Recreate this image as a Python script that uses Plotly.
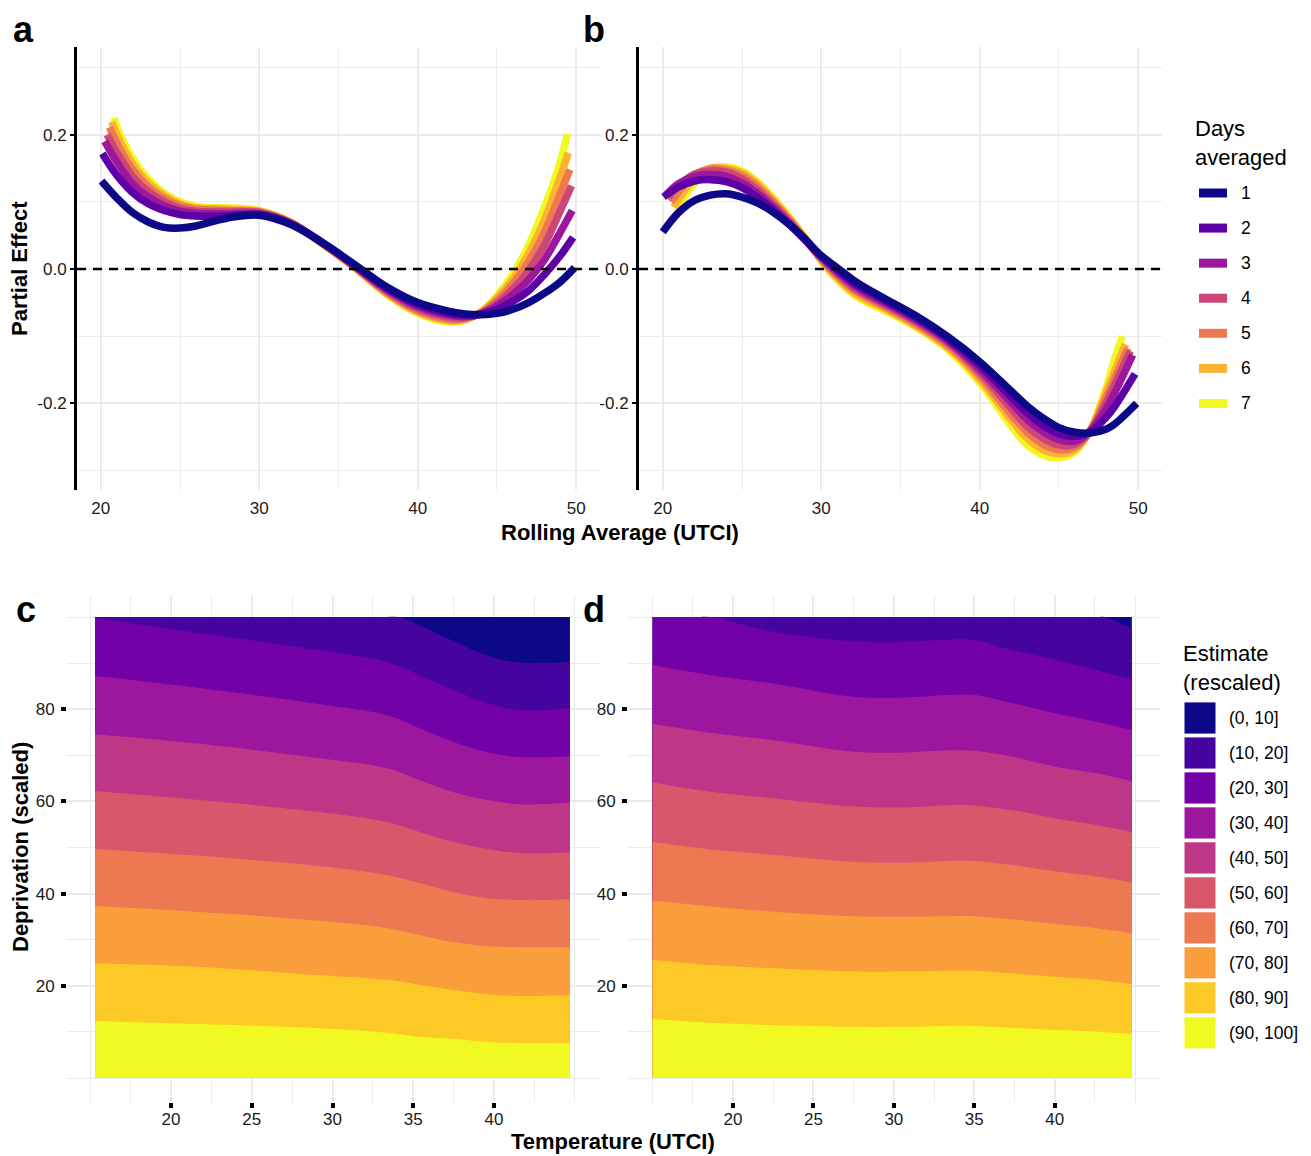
import plotly.graph_objects as go

# page body has an 8px default margin: lay out in window pixels, shift by that
OFF = 8
W, H = 1311 - OFF, 1156 - OFF
FONT = "Liberation Sans, Arial, Helvetica, sans-serif"

# ---------------- data: panels a / b (partial effect curves) ----------------
days = [1, 2, 3, 4, 5, 6, 7]
day_colors = ["#0D0887", "#5D01A6", "#9C179E", "#CC4678", "#ED7953", "#FDB32F", "#F0F921"]

a_mid_x = [21, 22, 23, 24, 25, 26, 28, 30, 32, 34, 36, 38, 40, 42, 43, 44, 45, 46, 47, 48, 49]
a_start_x = [20.05, 20.1, 20.25, 20.4, 20.55, 20.7, 20.85]
a_end_x = [49.9, 49.8, 49.75, 49.7, 49.6, 49.5, 49.45]
a_day1 = [0.131, 0.106, 0.084, 0.070, 0.062, 0.061, 0.064, 0.076, 0.080, 0.066, 0.039, 0.007, -0.026, -0.050, -0.063, -0.067, -0.068, -0.066, -0.060, -0.050, -0.036, -0.019, 0.002]
a_day2 = [0.172, 0.140, 0.114, 0.097, 0.087, 0.081, 0.079, 0.079, 0.081, 0.067, 0.039, 0.006, -0.028, -0.053, -0.066, -0.069, -0.067, -0.060, -0.048, -0.032, -0.008, 0.020, 0.047]
a_day3 = [0.190, 0.160, 0.127, 0.107, 0.094, 0.086, 0.083, 0.082, 0.082, 0.068, 0.039, 0.005, -0.030, -0.056, -0.069, -0.071, -0.067, -0.055, -0.038, -0.016, 0.014, 0.055, 0.087]
a_day4 = [0.200, 0.174, 0.138, 0.115, 0.100, 0.090, 0.086, 0.085, 0.084, 0.068, 0.038, 0.004, -0.032, -0.059, -0.072, -0.072, -0.066, -0.051, -0.030, -0.002, 0.036, 0.087, 0.124]
a_day5 = [0.211, 0.188, 0.148, 0.122, 0.105, 0.094, 0.089, 0.087, 0.085, 0.069, 0.038, 0.003, -0.034, -0.062, -0.075, -0.074, -0.065, -0.047, -0.022, 0.011, 0.055, 0.113, 0.148]
a_day6 = [0.219, 0.201, 0.157, 0.128, 0.109, 0.097, 0.091, 0.089, 0.086, 0.069, 0.037, 0.003, -0.036, -0.064, -0.077, -0.075, -0.064, -0.043, -0.015, 0.023, 0.073, 0.138, 0.173]
a_day7 = [0.225, 0.213, 0.165, 0.134, 0.113, 0.100, 0.093, 0.091, 0.087, 0.070, 0.037, 0.002, -0.037, -0.066, -0.079, -0.076, -0.063, -0.040, -0.008, 0.035, 0.092, 0.160, 0.201]

b_mid_x = [21, 22, 23, 24, 25, 26, 27, 28, 29, 30, 31, 32, 33, 34, 36, 38, 40, 42, 43, 44, 45, 46, 47, 48, 48.5]
b_start_x = [20.0, 20.05, 20.2, 20.35, 20.5, 20.7, 20.9]
b_end_x = [49.9, 49.8, 49.65, 49.5, 49.35, 49.2, 49.0]
b_day1 = [0.055, 0.084, 0.102, 0.110, 0.112, 0.107, 0.098, 0.084, 0.066, 0.044, 0.020, 0.002, -0.016, -0.031, -0.044, -0.070, -0.101, -0.138, -0.182, -0.204, -0.222, -0.236, -0.243, -0.244, -0.238, -0.231, -0.200]
b_day2 = [0.107, 0.122, 0.131, 0.133, 0.130, 0.121, 0.106, 0.087, 0.066, 0.043, 0.019, -0.001, -0.020, -0.034, -0.047, -0.073, -0.104, -0.143, -0.191, -0.214, -0.233, -0.245, -0.249, -0.242, -0.220, -0.205, -0.156]
b_day3 = [0.110, 0.127, 0.138, 0.141, 0.138, 0.128, 0.112, 0.091, 0.068, 0.043, 0.018, -0.004, -0.023, -0.038, -0.050, -0.076, -0.107, -0.149, -0.199, -0.224, -0.242, -0.254, -0.256, -0.241, -0.207, -0.185, -0.128]
b_day4 = [0.107, 0.124, 0.141, 0.146, 0.144, 0.134, 0.117, 0.095, 0.070, 0.043, 0.016, -0.007, -0.027, -0.041, -0.053, -0.079, -0.110, -0.154, -0.208, -0.234, -0.252, -0.262, -0.261, -0.240, -0.198, -0.173, -0.122]
b_day5 = [0.100, 0.115, 0.140, 0.149, 0.147, 0.139, 0.122, 0.099, 0.073, 0.044, 0.015, -0.010, -0.030, -0.044, -0.056, -0.082, -0.114, -0.159, -0.217, -0.243, -0.261, -0.269, -0.265, -0.240, -0.190, -0.164, -0.118]
b_day6 = [0.092, 0.103, 0.135, 0.150, 0.150, 0.143, 0.126, 0.102, 0.075, 0.045, 0.013, -0.013, -0.034, -0.048, -0.059, -0.085, -0.117, -0.164, -0.225, -0.252, -0.269, -0.275, -0.269, -0.239, -0.182, -0.153, -0.112]
b_day7 = [0.088, 0.092, 0.128, 0.148, 0.152, 0.146, 0.129, 0.105, 0.077, 0.046, 0.012, -0.016, -0.037, -0.051, -0.062, -0.087, -0.120, -0.169, -0.234, -0.262, -0.277, -0.281, -0.272, -0.238, -0.175, -0.135, -0.100]

a_ticks = [20, 30, 40, 50]
y_ticks = [-0.2, 0.0, 0.2]
y_ticktext = ["-0.2", "0.0", "0.2"]

# ---------------- data: panels c / d (banded estimate surface) ----------------
# deprivation value of each band boundary (estimate = 10, 20, ... 90) at temperature columns
est_labels = ["(0, 10]", "(10, 20]", "(20, 30]", "(30, 40]", "(40, 50]",
              "(50, 60]", "(60, 70]", "(70, 80]", "(80, 90]", "(90, 100]"]
est_colors = ["#0D0887", "#47039F", "#7301A8", "#9C179E", "#BD3786",
              "#D8576B", "#ED7953", "#FA9E3B", "#FDC926", "#F0F921"]

c_x = [15.3, 21.8, 29.2, 33.4, 35.4, 37.5, 39.6, 41.6, 44.7]
c_b10_x = [15.3, 29.2, 33.0, 34.0, 35.4, 37.5, 39.6, 41.6, 44.7]
c_b10_y = [100, 100, 100, 100, 98.2, 94.8, 91.6, 90.1, 90.3]
c_b20 = [99.8, 96.5, 92.8, 90.2, 87.4, 84.2, 81.3, 79.8, 80.3]
c_b30 = [87.2, 84.6, 81.1, 78.7, 75.9, 72.9, 70.7, 69.6, 69.8]
c_b40 = [74.6, 72.5, 69.4, 67.2, 64.6, 62.0, 60.3, 59.4, 59.7]
c_b50 = [62.3, 60.3, 57.7, 55.5, 53.4, 51.2, 49.7, 48.8, 49.0]
c_b60 = [49.7, 48.2, 46.0, 44.0, 42.3, 40.3, 39.0, 38.6, 38.8]
c_b70 = [37.3, 36.0, 34.1, 32.5, 31.0, 29.5, 28.6, 28.4, 28.4]
c_b80 = [24.9, 24.1, 22.3, 21.3, 20.2, 19.1, 18.2, 17.8, 18.0]
c_b90 = [12.4, 11.7, 10.8, 9.8, 8.9, 8.5, 7.8, 7.6, 7.6]

d_x = [15.0, 18.6, 22.5, 27.5, 30.4, 33.3, 35.0, 37.4, 40.1, 42.6, 44.8]
d_b10_x = [15.0, 42.6, 43.1, 44.8]
d_b10_y = [100, 100, 100, 97.5]
d_b20_x = [15.0, 17.6, 18.6, 22.5, 27.5, 30.4, 33.3, 35.0, 37.4, 40.1, 42.6, 44.8]
d_b20_y = [100, 100, 100, 96.8, 94.7, 94.6, 95.1, 95.0, 92.8, 90.7, 88.5, 86.5]
d_b30 = [89.6, 87.4, 85.6, 82.7, 82.5, 83.1, 83.1, 81.3, 79.1, 77.3, 75.5]
d_b40 = [76.8, 74.9, 73.3, 70.8, 70.6, 71.1, 71.0, 69.7, 67.5, 66.1, 64.4]
d_b50 = [64.1, 62.1, 60.7, 58.9, 58.7, 59.2, 59.1, 58.1, 56.3, 54.9, 53.4]
d_b60 = [51.2, 49.6, 48.4, 46.9, 46.7, 47.1, 47.1, 46.2, 44.8, 43.7, 42.4]
d_b70 = [38.5, 37.2, 36.1, 35.1, 35.0, 35.1, 35.1, 34.4, 33.4, 32.5, 31.4]
d_b80 = [25.6, 24.5, 23.8, 23.1, 23.1, 23.3, 23.3, 22.7, 22.0, 21.3, 20.4]
d_b90 = [12.8, 12.0, 11.5, 11.1, 11.1, 11.3, 11.3, 10.9, 10.4, 10.1, 9.5]

c_ticks_x = [20, 25, 30, 35, 40]
c_ticks_y = [20, 40, 60, 80]


# ---------------- helpers (window pixels -> paper fractions) ----------------
def PX(p):
    return (p - OFF) / W


def PY(p):
    return 1 - (p - OFF) / H


fig = go.Figure()

# lines: panels a and b (day 7 drawn first, day 1 on top)
a_days = [a_day1, a_day2, a_day3, a_day4, a_day5, a_day6, a_day7]
b_days = [b_day1, b_day2, b_day3, b_day4, b_day5, b_day6, b_day7]
for i in reversed(range(len(days))):
    fig.add_trace(go.Scatter(
        x=[a_start_x[i]] + a_mid_x + [a_end_x[i]], y=a_days[i], mode="lines",
        line=dict(color=day_colors[i], width=7.5, shape="spline", smoothing=1.0),
        xaxis="x", yaxis="y", showlegend=False, hoverinfo="skip"))
for i in reversed(range(len(days))):
    fig.add_trace(go.Scatter(
        x=[b_start_x[i]] + b_mid_x + [b_end_x[i]], y=b_days[i], mode="lines",
        line=dict(color=day_colors[i], width=7.5, shape="spline", smoothing=1.0),
        xaxis="x2", yaxis="y2", showlegend=False, hoverinfo="skip"))


def add_bands(xcols, b10x, b10y, b20x, b20y, others, xa, ya):
    bounds = [([xcols[0], xcols[-1]], [100, 100]), (b10x, b10y), (b20x, b20y)]
    for arr in others:
        bounds.append((xcols, arr))
    for k, (bx, by) in enumerate(bounds):
        fig.add_trace(go.Scatter(
            x=bx, y=by, mode="lines", fill="tozeroy", fillcolor=est_colors[k],
            line=dict(width=0, shape="spline", smoothing=1.0, color=est_colors[k]),
            xaxis=xa, yaxis=ya, showlegend=False, hoverinfo="skip"))


add_bands(c_x, c_b10_x, c_b10_y, c_x, c_b20,
          [c_b30, c_b40, c_b50, c_b60, c_b70, c_b80, c_b90], "x3", "y3")
add_bands(d_x, d_b10_x, d_b10_y, d_b20_x, d_b20_y,
          [d_b30, d_b40, d_b50, d_b60, d_b70, d_b80, d_b90], "x4", "y4")

GRID = "#EBEBEB"
tickfont = dict(family=FONT, size=17, color="#1a1a1a")


def line_xaxis(dom, anchor):
    return dict(domain=dom, anchor=anchor, range=[18.5, 51.5], tickmode="array",
                tickvals=a_ticks, ticks="", showgrid=True, gridcolor=GRID, gridwidth=1.6,
                zeroline=False, showline=False, tickfont=tickfont, ticklabelstandoff=6,
                minor=dict(tickmode="linear", tick0=0, dtick=5, showgrid=True,
                           gridcolor=GRID, gridwidth=1.2, ticks=""),
                fixedrange=True)


def line_yaxis(dom, anchor):
    return dict(domain=dom, anchor=anchor, range=[-0.3289, 0.3304], tickmode="array",
                tickvals=y_ticks, ticktext=y_ticktext, ticks="outside", ticklen=4,
                tickwidth=2, tickcolor="black", showline=True, linewidth=3,
                linecolor="black", showgrid=True, gridcolor=GRID, gridwidth=1.6,
                zeroline=False, tickfont=tickfont,
                minor=dict(tickmode="linear", tick0=0, dtick=0.1, showgrid=True,
                           gridcolor=GRID, gridwidth=1.2, ticks=""),
                fixedrange=True)


def surf_xaxis(dom, anchor, rng):
    return dict(domain=dom, anchor=anchor, range=rng, tickmode="array",
                tickvals=c_ticks_x, ticks="outside", ticklen=5, tickwidth=4,
                tickcolor="black", showgrid=True, gridcolor=GRID, gridwidth=1.6,
                zeroline=False, showline=False, tickfont=tickfont, ticklabelstandoff=-3,
                minor=dict(tickmode="linear", tick0=0, dtick=2.5, showgrid=True,
                           gridcolor=GRID, gridwidth=1.2, ticks=""),
                fixedrange=True)


def surf_yaxis(dom, anchor):
    return dict(domain=dom, anchor=anchor, range=[-5.2, 104.8], tickmode="array",
                tickvals=c_ticks_y, ticks="outside", ticklen=5, tickwidth=4,
                tickcolor="black", showgrid=True, gridcolor=GRID, gridwidth=1.6,
                zeroline=False, showline=False, tickfont=tickfont, ticklabelstandoff=3,
                minor=dict(tickmode="linear", tick0=0, dtick=10, showgrid=True,
                           gridcolor=GRID, gridwidth=1.2, ticks=""),
                fixedrange=True)


top_dom = [PY(490), PY(47)]
bot_dom = [PY(1102), PY(595)]

shapes = []
for xr, yr in (("x domain", "y"), ("x2 domain", "y2")):
    shapes.append(dict(type="line", xref=xr, yref=yr, x0=0, x1=1, y0=0, y1=0,
                       line=dict(color="black", width=2.5, dash="9px,7px"), layer="above"))

annotations = []


def txt(text, x, y, size, bold=False, xanchor="left", yanchor="middle", angle=0,
        color="black", pad=1):
    if xanchor == "left":
        x -= 2  # annotation box padding
    annotations.append(dict(text=text, x=PX(x), y=PY(y), xref="paper", yref="paper",
                            xanchor=xanchor, yanchor=yanchor, showarrow=False, textangle=angle,
                            align="left" if xanchor == "left" else "center", borderpad=pad,
                            font=dict(family=FONT, size=size, color=color,
                                      weight="bold" if bold else "normal")))


# panel letters
txt("a", 14, 29, 36, bold=True, pad=0)
txt("b", 584, 29, 36, bold=True, pad=0)
txt("c", 17, 609, 36, bold=True, pad=0)
txt("d", 584, 609, 36, bold=True, pad=0)

# axis titles
txt("Partial Effect", 20, 269, 22, bold=True, xanchor="center", angle=-90)
txt("Rolling Average (UTCI)", 620, 532, 22, bold=True, xanchor="center")
txt("Deprivation (scaled)", 20, 847, 22, bold=True, xanchor="center", angle=-90)
txt("Temperature (UTCI)", 613, 1141, 22, bold=True, xanchor="center")

# legend: days averaged
txt("Days<br>averaged", 1195, 142.5, 22)
for i, d in enumerate(days):
    cy = 193 + 35.08 * i
    shapes.append(dict(type="rect", xref="paper", yref="paper",
                       x0=PX(1199), x1=PX(1227), y0=PY(cy + 4.5), y1=PY(cy - 4.5),
                       fillcolor=day_colors[i], line=dict(width=0)))
    txt(str(d), 1241, cy, 17.5)

# legend: estimate
txt("Estimate<br>(rescaled)", 1183, 668, 22)
for i, lab in enumerate(est_labels):
    cy = 718 + 34.98 * i
    shapes.append(dict(type="rect", xref="paper", yref="paper",
                       x0=PX(1184.5), x1=PX(1215.5), y0=PY(cy + 15.6), y1=PY(cy - 15.6),
                       fillcolor=est_colors[i], line=dict(width=0)))
    txt(lab, 1229, cy, 17.5)

fig.update_layout(
    width=W, height=H, margin=dict(l=0, r=0, t=0, b=0),
    paper_bgcolor="white", plot_bgcolor="white", showlegend=False,
    font=dict(family=FONT, color="black"),
    xaxis=line_xaxis([PX(77), PX(600)], "y"),
    yaxis=line_yaxis(top_dom, "x"),
    xaxis2=line_xaxis([PX(639), PX(1162)], "y2"),
    yaxis2=line_yaxis(top_dom, "x2"),
    xaxis3=surf_xaxis([PX(67), PX(600)], "y3", [13.56, 46.56]),
    yaxis3=surf_yaxis(bot_dom, "x3"),
    xaxis4=surf_xaxis([PX(628), PX(1160)], "y4", [13.47, 46.55]),
    yaxis4=surf_yaxis(bot_dom, "x4"),
    shapes=shapes, annotations=annotations, hovermode=False,
)

fig.write_html("out.html")
